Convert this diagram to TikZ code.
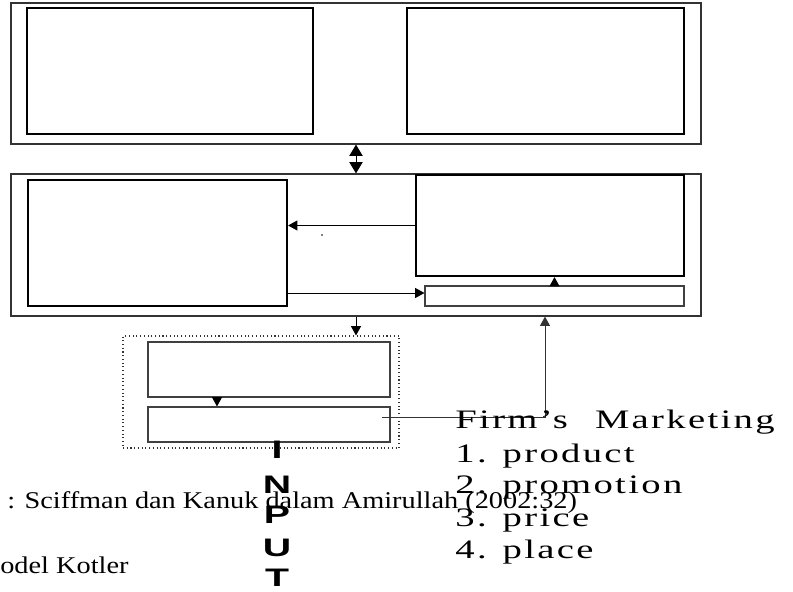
\documentclass[tikz,border=0pt]{standalone}
\usepackage{fontspec}
\setmainfont{Liberation Serif}
\newfontfamily\sansf{Liberation Sans}
\usetikzlibrary{arrows.meta,fit,calc}
\begin{document}
\begin{tikzpicture}[x=0.75pt,y=-0.75pt,
  outerbox/.style={draw=black!80,line width=0.9pt,inner sep=0pt},
  thickbox/.style={draw=black,line width=1.6pt,inner sep=0pt},
  thinbox/.style={draw=black!75,line width=0.8pt,inner sep=0pt},
  dotbox/.style={draw=black!80,line width=0.8pt,dotted,inner sep=0pt},
  conn/.style={draw=black,line width=0.75pt,-{Triangle[length=7pt,width=7.5pt]}},
  dconn/.style={draw=black,line width=0.75pt,{Triangle[length=8.5pt,width=10pt]}-{Triangle[length=8.5pt,width=10pt]}},
  firmtxt/.style={anchor=base west,inner sep=0pt,font=\fontsize{20}{24}\selectfont\addfontfeature{LetterSpace=6},xscale=1.45},
  srctxt/.style={anchor=base west,inner sep=0pt,font=\fontsize{18}{21}\selectfont,xscale=1.18},
  inletter/.style={inner sep=0pt,font=\sansf\bfseries\fontsize{19}{22}\selectfont,xscale=1.55}]
\useasboundingbox (0,0) rectangle (793,592);
% top section
\node[outerbox,fit={(11,3) (701,144)}] (top) {};
\node[thickbox,fit={(27,8) (313,134)}] (tl) {};
\node[thickbox,fit={(407,8) (684,134)}] (tr) {};
% middle section
\node[outerbox,fit={(11,174) (701,316)}] (mid) {};
\node[thickbox,fit={(28,180) (287,306)}] (ml) {};
\node[thickbox,fit={(416,175) (684,276)}] (mr) {};
\node[thinbox,fit={(425,286) (684,306)}] (bar) {};
\fill (322,235) circle (0.9);
% lower dotted group
\node[dotbox,fit={(123,336) (399,448)}] (grp) {};
\node[thinbox,fit={(148,342) (390,397)}] (b1) {};
\node[thinbox,fit={(148,407) (390,442)}] (b2) {};
% connectors
\coordinate (dx) at (356,0);
\draw[dconn] (top.south -| dx) -- (mid.north -| dx);
\draw[conn] (mr.west) -- (mr.west -| ml.east);
\coordinate (lo) at (287,293);
\draw[conn] (lo) -- (lo -| bar.west);
\draw[conn] (bar.north) -- (bar.north |- mr.south);
\draw[conn] (mid.south -| dx) -- (grp.north -| dx);
\coordinate (ax) at (217,0);
\draw[conn] (b1.south -| ax) -- (b2.north -| ax);
\coordinate (fb) at (382,417);
\coordinate (fc) at (545,417);
\draw[conn,draw=black!80] (fb) -- (fc) -- (fc |- mid.south);
% texts
\node[firmtxt] (firm) at (455,428) {Firm’s\hspace{14pt}Marketing};
\node[firmtxt] (p1) at (455,462) {1. product};
\node[firmtxt] (p2) at (455,493) {2. promotion};
\node[firmtxt] (p3) at (455,526) {3. price};
\node[firmtxt] (p4) at (455,558) {4. place};
\node[srctxt] (src) at (7,508) {: Sciffman dan Kanuk dalam Amirullah (2002:32)};
\node[srctxt] (mdl) at (0,573) {odel Kotler};
\node[inletter] (i1) at (277,450) {I};
\node[inletter] (i2) at (277,485) {N};
\node[inletter] (i3) at (277,515) {P};
\node[inletter] (i4) at (277,548) {U};
\node[inletter] (i5) at (277,578) {T};
\end{tikzpicture}
\end{document}
